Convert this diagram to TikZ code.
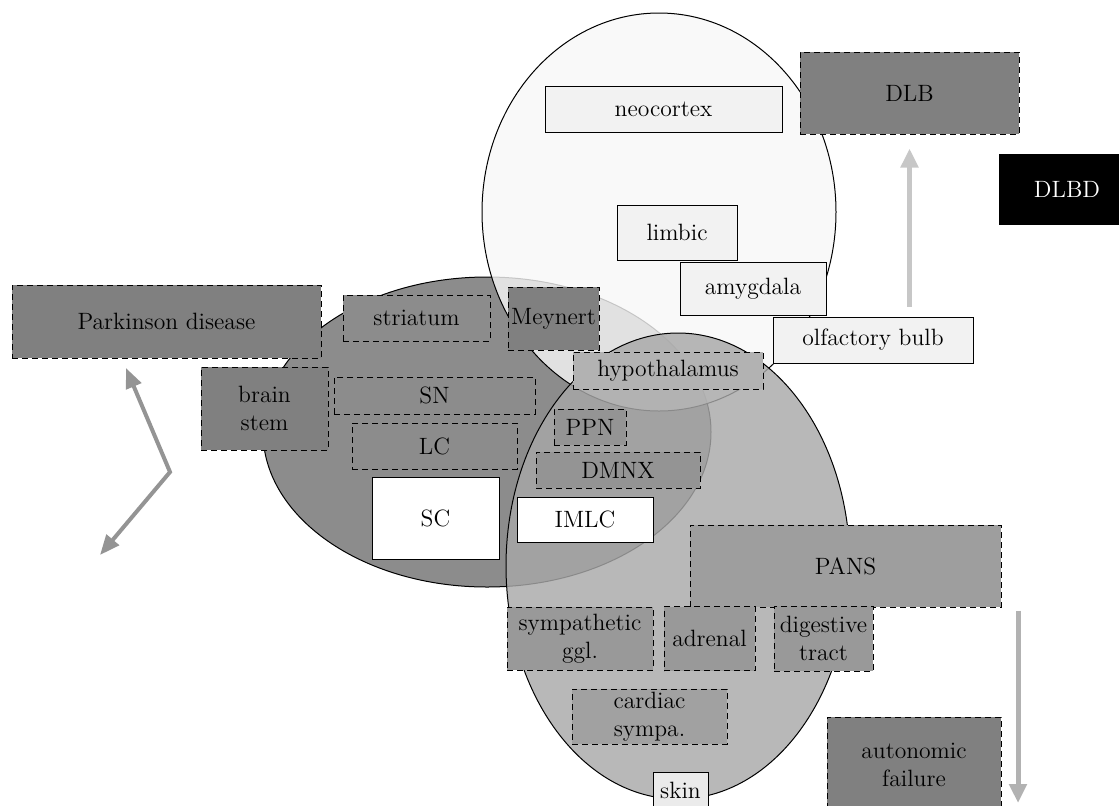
\documentclass[tikz,border=0pt]{standalone}
\usepackage{tikz}
\usetikzlibrary{positioning,arrows.meta}
\tikzset{
  region/.style={draw=black, line width=0.5pt},
  boxsize/.style 2 args={minimum width=#1*0.5pt, minimum height=#2*0.5pt},
  organ/.style={draw=black, line width=0.5pt, rectangle, inner sep=0pt, align=center,
    font=\fontsize{11.8}{14}\selectfont},
  darkorgan/.style={organ, densely dashed, fill=black!50},
  midorgan/.style={organ, densely dashed, fill=black!42},
  lightorgan/.style={organ, fill=black!5},
  whiteorgan/.style={organ, fill=white},
  uplink/.style={line width=2.5pt, draw=black!22, -{Triangle[length=9.5pt,width=8.5pt]}},
  downlink/.style={line width=2.5pt, draw=black!30, -{Triangle[length=9.5pt,width=8.5pt]}},
  bendlink/.style={line width=2pt, draw=black!42, {Triangle[length=10pt,width=8pt]}-{Triangle[length=10pt,width=8pt]}}
}
\begin{document}
\begin{tikzpicture}[x=0.5pt, y=-0.5pt]
    \useasboundingbox (0,0) rectangle (1119,805);

    % the three regions
    \draw[region, fill=black!45] (487,432) ellipse [x radius=112pt, y radius=77.5pt];
    \draw[region, fill=black!3, fill opacity=0.8] (659,212) ellipse [x radius=88.5pt, y radius=99.5pt];
    \draw[region, fill=black!34, fill opacity=0.82] (678,566) ellipse [x radius=86pt, y radius=116.5pt];

    % left part
    \node[darkorgan, boxsize={309}{73}] (pd) at (166.5,321.5) {Parkinson disease};
    \node[darkorgan, boxsize={127}{83}] (stem) at (264.5,408.5) {brain\\stem};
    \node[midorgan, fill=black!45, boxsize={147}{46}] (striatum) at (416.5,318) {striatum};
    \node[darkorgan, boxsize={91}{63}] (meynert) at (553.5,318.5) {Meynert};
    \node[midorgan, fill=black!45, boxsize={201}{37}] (sn) at (434.5,395.5) {SN};
    \node[midorgan, fill=black!45, boxsize={165}{46}] (lc) at (434.5,446) {LC};
    \node[whiteorgan, boxsize={127}{82}] (sc) at (435.5,518) {SC};

    % upper part
    \node[lightorgan, boxsize={237}{46}] (neo) at (663.5,109) {neocortex};
    \node[lightorgan, boxsize={120}{55}] (limbic) at (677,232.5) {limbic};
    \node[lightorgan, boxsize={146}{53}] (amyg) at (753,288.5) {amygdala};
    \node[lightorgan, boxsize={200}{46}] (olf) at (873,340) {olfactory bulb};
    \node[darkorgan, boxsize={219}{82}] (dlb) at (909.5,93) {DLB};
    \node[organ, fill=black, text=white, boxsize={136}{70}] (dlbd) at (1067,189) {DLBD};

    % lower part
    \node[midorgan, fill=black!30, boxsize={190}{37}] (hypo) at (668,370.5) {hypothalamus};
    \node[midorgan, boxsize={72}{36}] (ppn) at (590,427) {PPN};
    \node[midorgan, boxsize={164}{36}] (dmnx) at (618,470) {DMNX};
    \node[whiteorgan, boxsize={136}{45}] (imlc) at (585,519.5) {IMLC};
    \node[midorgan, fill=black!38, boxsize={311}{82}] (pans) at (845.5,566) {PANS};
    \node[midorgan, fill=black!40, boxsize={146}{63}] (symp) at (580,638.5) {sympathetic\\ggl.};
    \node[midorgan, fill=black!40, boxsize={91}{64}, right=5pt of symp] (adrenal) {adrenal};
    \node[midorgan, fill=black!40, boxsize={99}{65}, right=9pt of adrenal] (digest) {digestive\\tract};
    \node[midorgan, fill=black!37, boxsize={155}{55}] (cardiac) at (649.5,716.5) {cardiac\\sympa.};
    \node[lightorgan, fill=black!8, boxsize={55}{36}] (skin) at (680.5,790) {skin};
    \node[darkorgan, boxsize={174}{96}] (af) at (914,765) {autonomic\\failure};

    % arrows
    \draw[uplink, shorten <=5pt, shorten >=7pt] (olf.north -| dlb.south) -- (dlb.south);
    \coordinate (afTip) at (1018,803);
    \draw[downlink, shorten <=1.5pt] (pans.south east -| afTip) -- (afTip);
    \coordinate (zzTop) at (126,368);
    \coordinate (zzMid) at (170,472);
    \coordinate (zzEnd) at (100,555);
    \draw[bendlink] (zzTop) -- (zzMid) -- (zzEnd);
\end{tikzpicture}
\end{document}
